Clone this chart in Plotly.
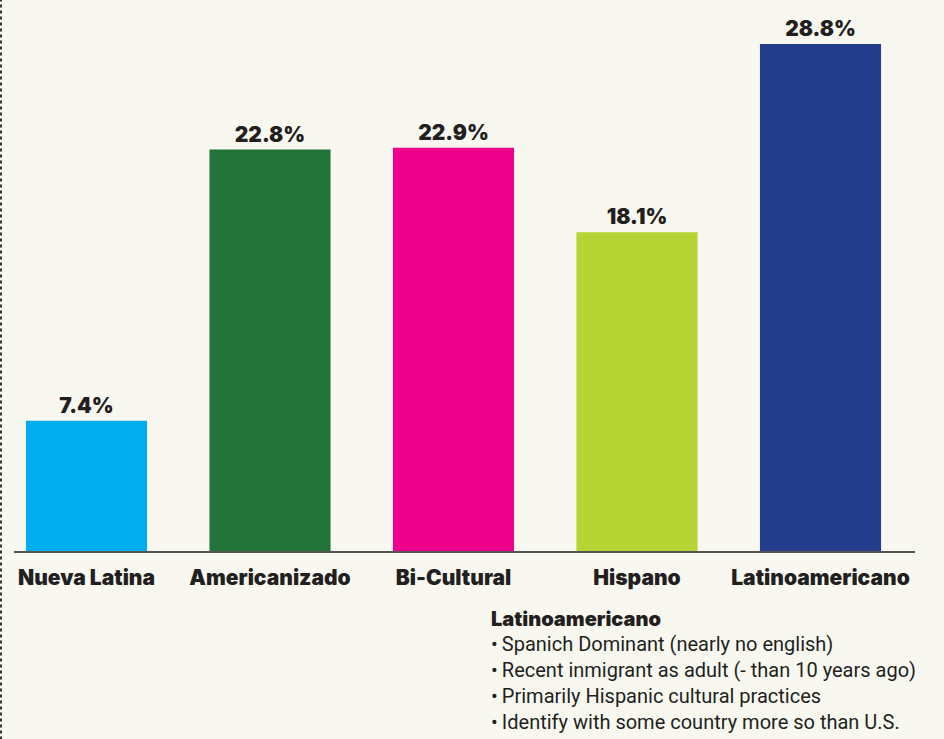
import plotly.graph_objects as go

categories = ["Nueva Latina", "Americanizado", "Bi-Cultural", "Hispano", "Latinoamericano"]
values = [7.4, 22.8, 22.9, 18.1, 28.8]
value_labels = ["7.4%", "22.8%", "22.9%", "18.1%", "28.8%"]
colors = ["#00aeef", "#22743b", "#ec008c", "#b6d434", "#243e8b"]
note_title = "Latinoamericano"
note_items = [
    "Spanich Dominant (nearly no english)",
    "Recent inmigrant as adult (- than 10 years ago)",
    "Primarily Hispanic cultural practices",
    "Identify with some country more so than U.S.",
]

W, H = 944, 739
ml, mr, mt, mb = 14, 29, 20, 188
plot_w = W - ml - mr
plot_h = H - mt - mb

xpos = list(range(len(categories)))

heavy_family = "'Inter Black', 'Roboto Black', Inter, Roboto, 'DejaVu Sans', sans-serif"
heavy = dict(family=heavy_family, color="#231f20", weight=900)

fig = go.Figure(
    go.Bar(
        x=xpos,
        y=values,
        width=0.66,
        marker=dict(color=colors, line=dict(width=0)),
        text=value_labels,
        textposition="outside",
        textfont=dict(size=21, **heavy),
        cliponaxis=False,
        hoverinfo="skip",
    )
)

px_per_unit = 507 / 28.8
fig.update_yaxes(range=[0, plot_h / px_per_unit], visible=False, showgrid=False, zeroline=False)

x_unit = 183.5
x0 = -(86.5 - ml) / x_unit
x1 = 4 + (ml + plot_w - 820.5) / x_unit
fig.update_xaxes(
    range=[x0, x1],
    tickmode="array",
    tickvals=xpos,
    ticktext=categories,
    tickfont=dict(size=21, **heavy),
    showline=True,
    linecolor="#555555",
    linewidth=2,
    ticks="",
    showgrid=False,
    zeroline=False,
    ticklabelstandoff=7,
)

fig.add_annotation(
    xref="paper", yref="paper",
    x=(489 - ml) / plot_w, y=-(605 - (mt + plot_h)) / plot_h,
    xanchor="left", yanchor="top", align="left",
    text=note_title, showarrow=False,
    font=dict(size=20, **heavy),
)
note_text = "<br>".join("\u2022\u2009" + t for t in note_items)
fig.add_annotation(
    xref="paper", yref="paper",
    x=(489 - ml) / plot_w, y=-(630 - (mt + plot_h)) / plot_h,
    xanchor="left", yanchor="top", align="left",
    text=note_text, showarrow=False,
    font=dict(size=20, family="Roboto, 'Open Sans', sans-serif", color="#231f20"),
)

# dotted left edge
fig.add_shape(
    type="line", xref="paper", yref="paper",
    x0=(1 - ml) / plot_w, x1=(1 - ml) / plot_w, y0=-0.4, y1=1.1,
    line=dict(color="#333333", width=2, dash="dot"),
)

fig.update_layout(
    width=W, height=H,
    margin=dict(l=ml, r=mr, t=mt, b=mb),
    paper_bgcolor="#f8f8f1",
    plot_bgcolor="rgba(0,0,0,0)",
    showlegend=False,
    bargap=0.34,
)

fig.write_html("out.html")
